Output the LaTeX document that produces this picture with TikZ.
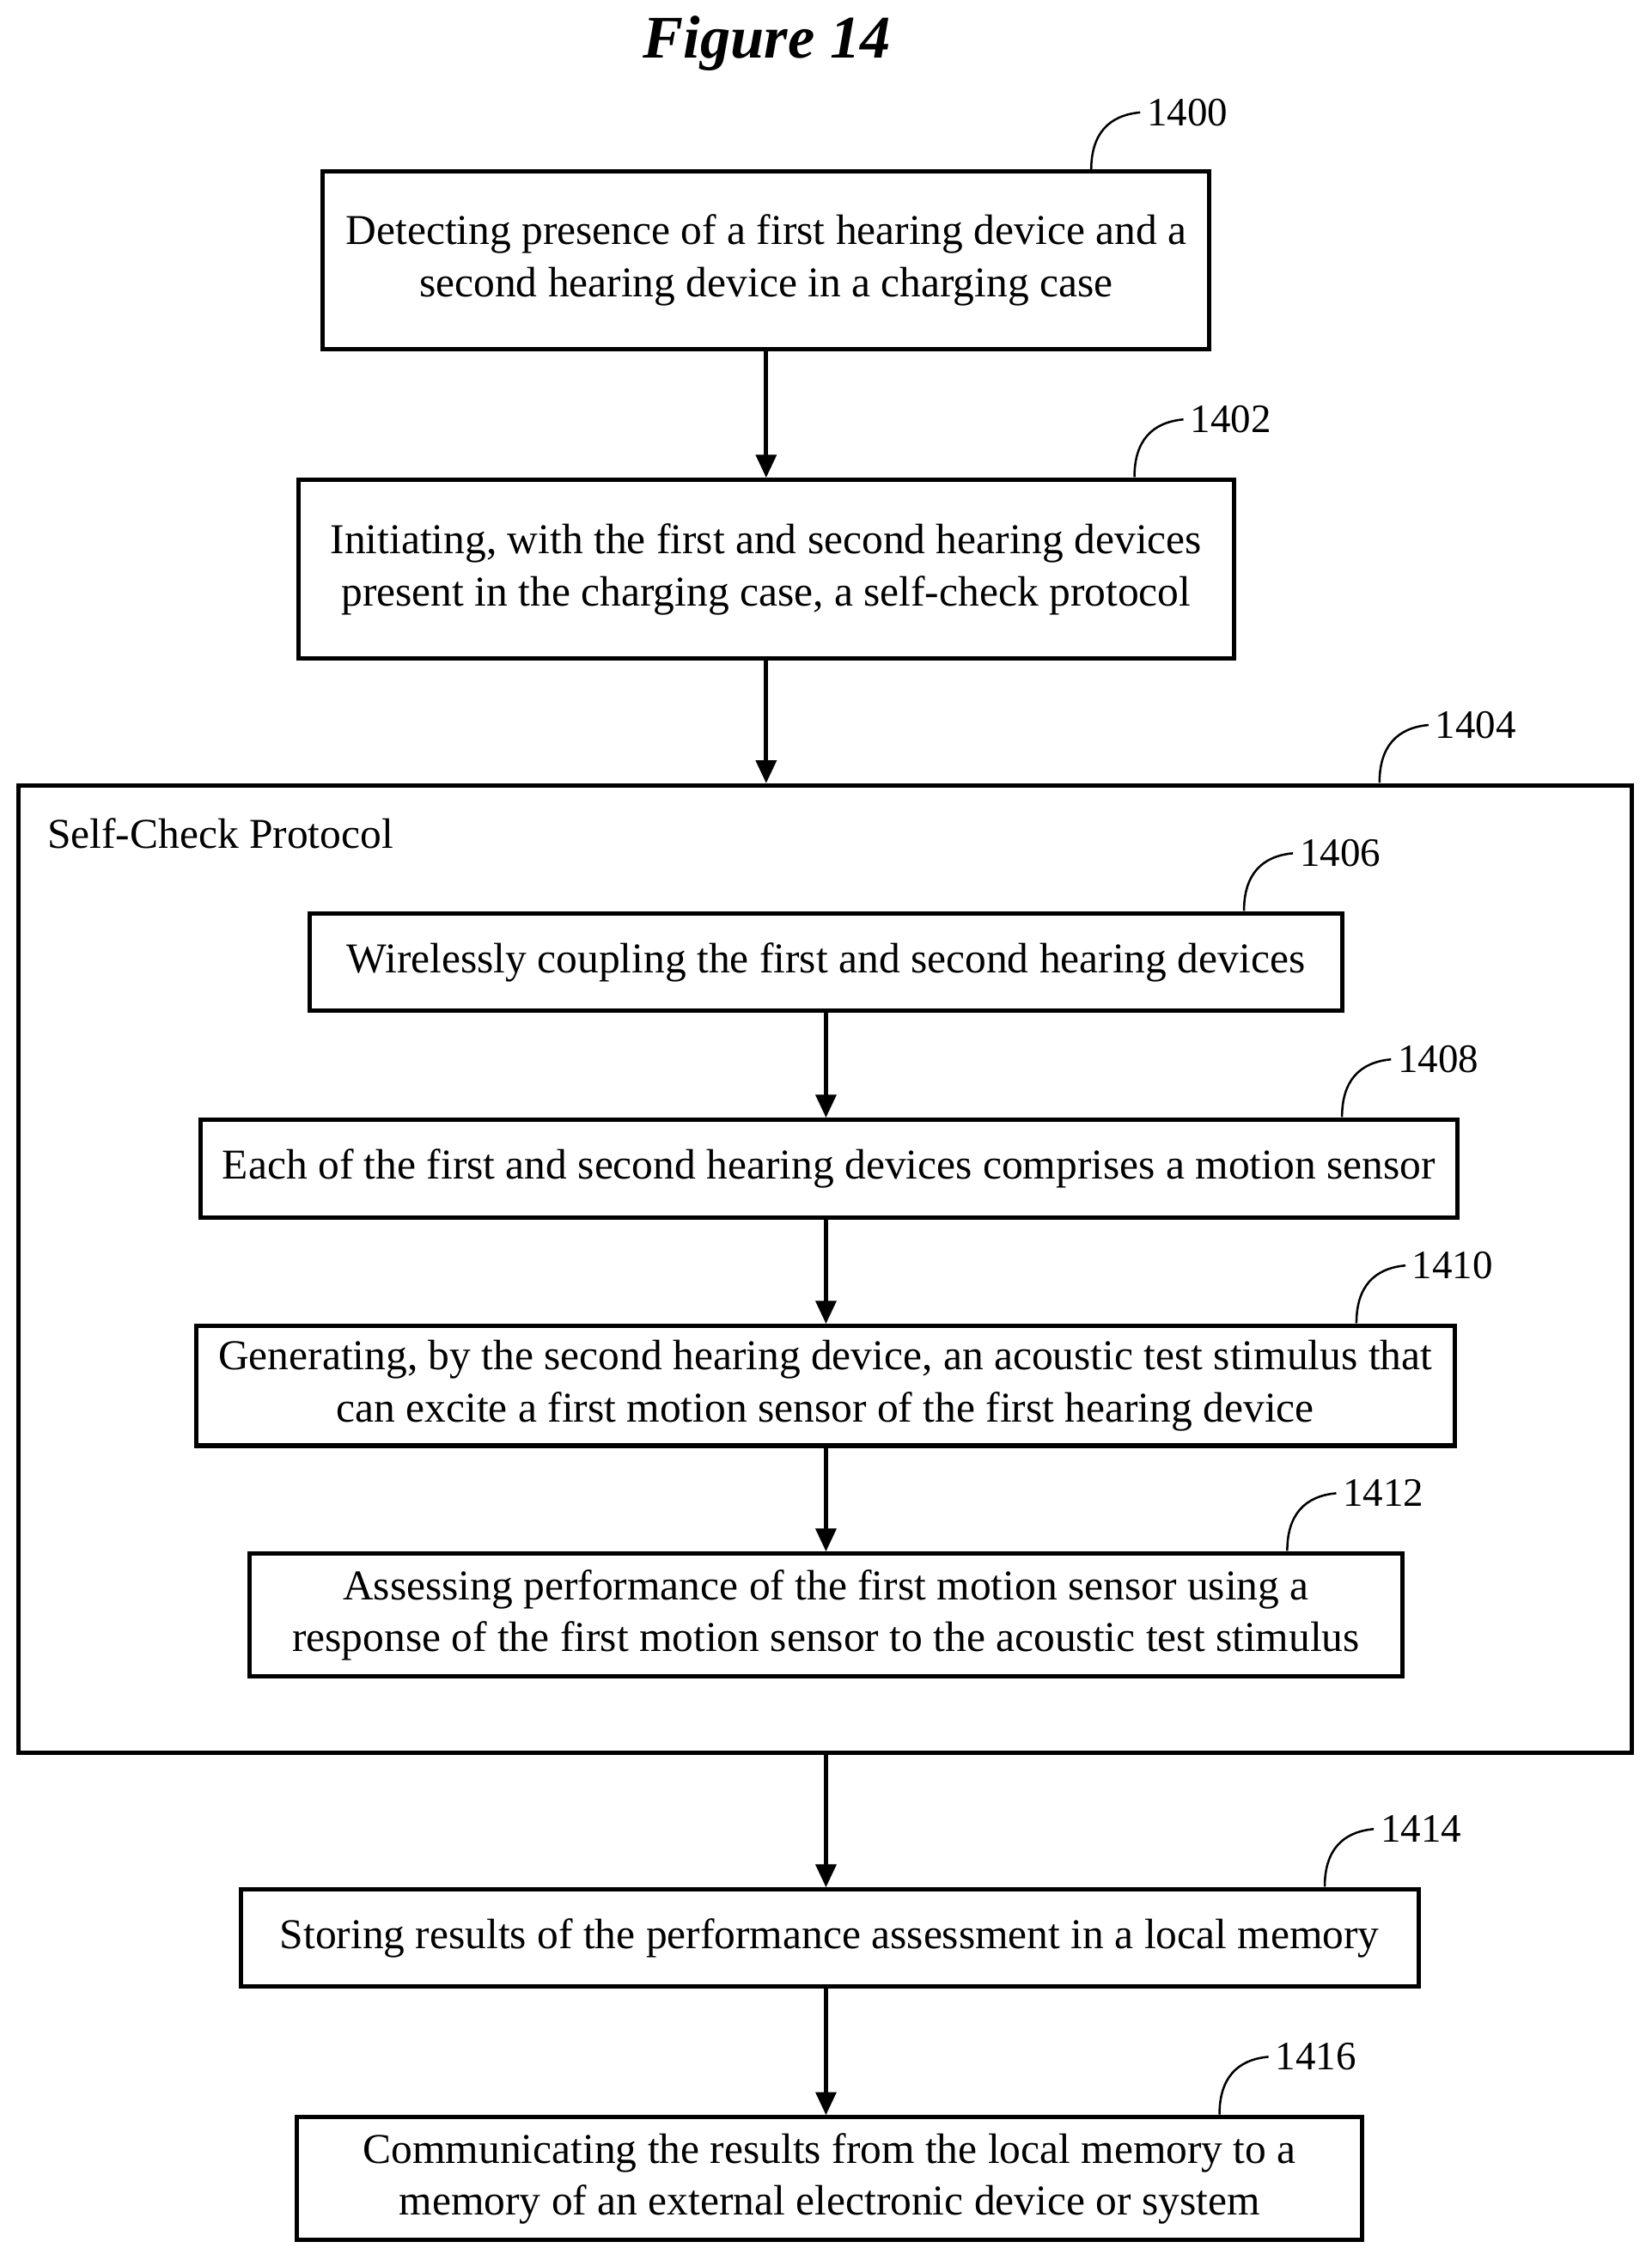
\documentclass[tikz,border=0pt]{standalone}
\usepackage{fontspec}
\setmainfont{Liberation Serif}
\usetikzlibrary{arrows.meta}
\begin{document}
\begin{tikzpicture}[x=1pt,y=-1pt,line width=3pt,
  stepbox/.style={draw,line width=3pt,inner sep=0pt,align=center,font=\fontsize{29.5}{36}\selectfont},
  flow/.style={-{Triangle[length=16pt,width=14pt]},line width=3pt},
  hook/.style={line width=1.5pt},
  num/.style={anchor=west,inner sep=4pt,font=\fontsize{28}{30}\selectfont}]
\useasboundingbox (0,0) rectangle (1146,1568);
\node[font=\bfseries\itshape\fontsize{42}{46}\selectfont] (title) at (532,30) {Figure 14};
% outer steps
\node[stepbox,minimum width=615pt,minimum height=123pt] (s1400) at (531.5,180.5)
  {Detecting presence of a first hearing device and a\\second hearing device in a charging case};
\node[stepbox,minimum width=649pt,minimum height=124pt] (s1402) at (531.5,395)
  {Initiating, with the first and second hearing devices\\present in the charging case, a self-check protocol};
% self-check protocol frame
\node[draw,line width=3pt,minimum width=1119pt,minimum height=671pt,inner sep=0pt] (s1404) at (572.5,880.5) {};
\node[anchor=west,font=\fontsize{29.5}{32}\selectfont] (sctitle) at (28,578) {Self-Check Protocol};
\node[stepbox,minimum width=716pt,minimum height=67pt] (s1406) at (573,667.5)
  {Wirelessly coupling the first and second hearing devices};
\node[stepbox,minimum width=872pt,minimum height=68pt] (s1408) at (575,811)
  {Each of the first and second hearing devices comprises a motion sensor};
\node[stepbox,minimum width=873pt,minimum height=83pt] (s1410) at (572.5,961.5)
  {Generating, by the second hearing device, an acoustic test stimulus that\\can excite a first motion sensor of the first hearing device};
\node[stepbox,minimum width=800pt,minimum height=85pt] (s1412) at (573,1120.5)
  {Assessing performance of the first motion sensor using a\\response of the first motion sensor to the acoustic test stimulus};
\node[stepbox,minimum width=817pt,minimum height=67pt] (s1414) at (575.5,1344.5)
  {Storing results of the performance assessment in a local memory};
\node[stepbox,minimum width=739pt,minimum height=85pt] (s1416) at (575.5,1511.5)
  {Communicating the results from the local memory to a\\memory of an external electronic device or system};
% arrows
\draw[flow] (s1400) -- (s1402);
\draw[flow] (s1402.south) -- (s1402.south |- s1404.north);
\draw[flow] (s1406) -- (s1406 |- s1408.north);
\draw[flow] (s1408.south -| s1406) -- (s1406 |- s1410.north);
\draw[flow] (s1410.south -| s1406) -- (s1406 |- s1412.north);
\draw[flow] (s1412.south |- s1404.south) -- (s1414.north -| s1412.south);
\draw[flow] (s1414.south -| s1412.south) -- (s1416.north -| s1412.south);
% reference numerals
\foreach \x/\y/\t in {757/118/1400,787/331/1402,957/543/1404,863/632/1406,931/775/1408,941/918/1410,893/1076/1412,919/1309/1414,846/1467/1416}{
  \draw[hook] (\x,\y) .. controls (\x,\y-25) and (\x+12,\y-38) .. (\x+34,\y-40)
    node[num] (n\t) {\t};
}
\end{tikzpicture}
\end{document}
